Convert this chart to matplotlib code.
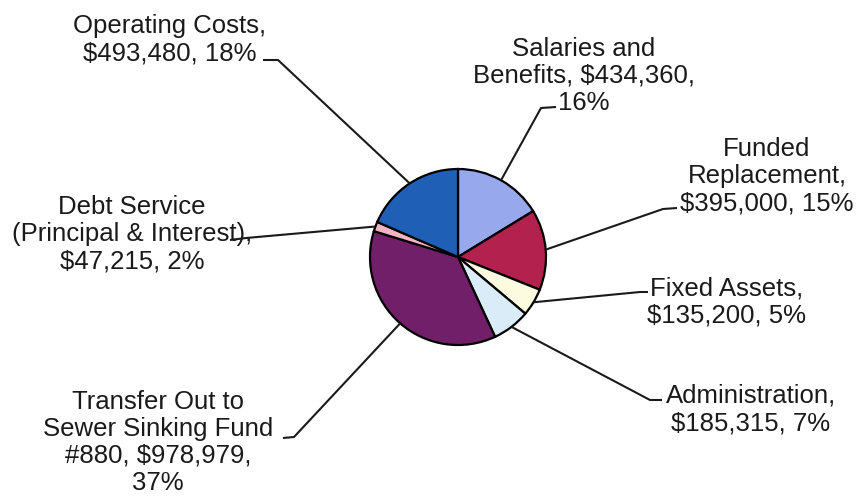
import matplotlib.pyplot as plt
import numpy as np

labels = ["Salaries and\nBenefits, $434,360,\n16%",
          "Funded\nReplacement,\n$395,000, 15%",
          "Fixed Assets,\n$135,200, 5%",
          "Administration,\n$185,315, 7%",
          "Transfer Out to\nSewer Sinking Fund\n#880, $978,979,\n37%",
          "Debt Service\n(Principal & Interest),\n$47,215, 2%",
          "Operating Costs,\n$493,480, 18%"]
values = [434360, 395000, 135200, 185315, 978979, 47215, 493480]
colors = ['#97a8ec', '#b3224f', '#fdfbdf', '#d9ecf8', '#721f69', '#f2b3c3', '#1f5fb5']

W, H = 857, 503
cx, cy, r = 458, 257, 88

# label x centre and last-line baseline, stub end (near text), elbow -- pixel coords (y down)
text_pos = [(584, 110), (767, 210), (727, 323), (751, 430), (158, 490), (132, 268), (170, 60)]
stub_end = [(556, 107), (677, 208), (648, 292), (662, 400), (283, 438), (230, 240), (263, 60)]
elbow = [(541, 108), (663, 209), (640, 292), (650, 400), (294, 437), (246, 238), (278, 60)]

fig = plt.figure(figsize=(W / 100, H / 100), dpi=100)
ax = fig.add_axes([0, 0, 1, 1])

def fy(y):
    return H - y

wedges, _ = ax.pie(values, colors=colors, startangle=90, counterclock=False,
                   center=(cx, fy(cy)), radius=r,
                   wedgeprops=dict(edgecolor='black', linewidth=1.6))

for i, w in enumerate(wedges):
    ang = np.deg2rad((w.theta1 + w.theta2) / 2)
    px = cx + r * np.cos(ang)
    py = fy(cy) + r * np.sin(ang)
    ex, ey = elbow[i]
    sx, sy = stub_end[i]
    ax.plot([px, ex, sx], [py, fy(ey), fy(sy)], color='#1a1a1a', lw=1.5,
            solid_capstyle='butt', zorder=1)
    tx, ty = text_pos[i]
    ax.text(tx, fy(ty), labels[i], ha='center', va='baseline', fontsize=18.5,
            family='Liberation Sans', color='#1a1a1a', linespacing=1.16)

ax.set_xlim(0, W)
ax.set_ylim(0, H)
ax.set_aspect('equal')
ax.axis('off')
fig.savefig('out.png', dpi=100)
